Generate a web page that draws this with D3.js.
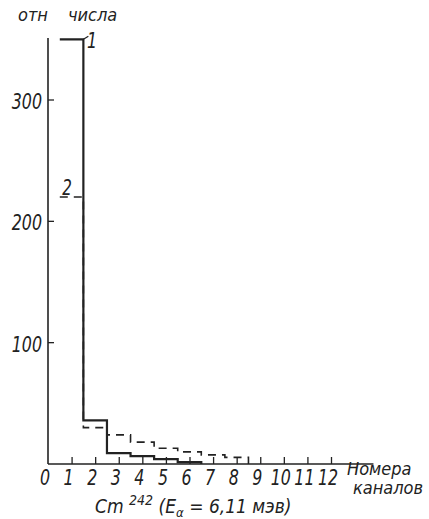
<!DOCTYPE html>
<html>
<head>
<meta charset="utf-8">
<script src="https://cdn.jsdelivr.net/npm/d3@7"></script>
<style>
  html, body { margin: 0; padding: 0; background: #fff; }
  svg text {
    font-family: "DejaVu Sans Condensed", "Liberation Sans Narrow", "DejaVu Sans", sans-serif;
    font-style: italic;
    font-weight: 300;
    fill: #222;
  }
</style>
</head>
<body>
<div id="chart"></div>
<script>
// Cm-242 channel distribution, curves 1 (solid) and 2 (dashed)
const channels1 = [1, 2, 3, 4, 5, 6];
const values1 = [350, 36, 9, 6.5, 4, 1.5];
const channels2 = [1, 2, 3, 4, 5, 6, 7, 8];
const values2 = [220, 30, 24, 18, 13, 10, 7.5, 5.5];
const xTickValues = [0, 1, 2, 3, 4, 5, 6, 7, 8, 9, 10, 11, 12];
const yTickValues = [100, 200, 300];

const W = 429, H = 519;
const INK = '#222';

const svg = d3.select('#chart').append('svg')
  .attr('width', W).attr('height', H);

// scales: 0 -> x 48, 12 -> x 331 ; 0 -> y 464, 300 -> y 100
const x = d3.scaleLinear().domain([0, 12]).range([48, 331]);
const y = d3.scaleLinear().domain([0, 300]).range([464, 100]);

// histogram outline as step points (no left edge on the first bin)
function stepPoints(chs, vals) {
  const pts = [];
  chs.forEach((c, i) => {
    pts.push([c - 0.5, vals[i]]);
    pts.push([c + 0.5, vals[i]]);
  });
  pts.push([chs[chs.length - 1] + 0.5, 0]);
  return pts;
}

const line = d3.line().x(d => x(d[0])).y(d => y(d[1]));

// x axis: ticks point upward
const xAxis = d3.axisTop(x)
  .tickValues(xTickValues.slice(1))
  .tickSize(7)
  .tickFormat('');
const gx = svg.append('g').attr('transform', 'translate(0,' + y(0) + ')').call(xAxis);
gx.select('.domain').remove();
gx.selectAll('line').attr('stroke', INK).attr('stroke-width', 1.3);
svg.append('line')
  .attr('x1', x(0)).attr('x2', x(13.8))
  .attr('y1', y(0)).attr('y2', y(0))
  .attr('stroke', INK).attr('stroke-width', 1.6);

// x tick labels (tall, narrow lettering)
svg.selectAll('.xlab').data(xTickValues).enter().append('text')
  .attr('class', 'xlab')
  .attr('transform', d => 'translate(' + (x(d) - 3) + ',485) scale(0.8,1)')
  .attr('text-anchor', 'middle')
  .attr('font-size', 22)
  .text(d => d);

// y axis
svg.append('line')
  .attr('x1', x(0)).attr('x2', x(0))
  .attr('y1', 38).attr('y2', y(0))
  .attr('stroke', INK).attr('stroke-width', 1.6);
svg.selectAll('.ytick').data(yTickValues).enter().append('line')
  .attr('x1', x(0)).attr('x2', x(0) + 6)
  .attr('y1', d => y(d)).attr('y2', d => y(d))
  .attr('stroke', INK).attr('stroke-width', 1.3);
svg.selectAll('.ylab').data(yTickValues).enter().append('text')
  .attr('transform', d => 'translate(42,' + (y(d) + 9) + ') scale(0.8,1)')
  .attr('text-anchor', 'end')
  .attr('font-size', 22)
  .text(d => d);

// curve 2 (dashed) first, solid on top
svg.append('path')
  .datum(stepPoints(channels2, values2))
  .attr('d', line)
  .attr('fill', 'none')
  .attr('stroke', INK)
  .attr('stroke-width', 1.6)
  .attr('stroke-dasharray', '8,6');

svg.append('path')
  .datum(stepPoints(channels1, values1))
  .attr('d', line)
  .attr('fill', 'none')
  .attr('stroke', INK)
  .attr('stroke-width', 2.2);

// curve labels
svg.append('text').attr('transform', 'translate(87,48) scale(0.8,1)')
  .attr('font-size', 22).text('1');
svg.append('line')
  .attr('x1', x(1.5)).attr('y1', y(values1[0]))
  .attr('x2', x(1.5) + 5).attr('y2', y(values1[0]) - 3)
  .attr('stroke', INK).attr('stroke-width', 1.2);
svg.append('text').attr('transform', 'translate(67,195) scale(0.8,1)')
  .attr('text-anchor', 'middle')
  .attr('font-size', 21).text('2');

// titles
svg.append('text').attr('x', 18).attr('y', 21).attr('font-size', 18).text('отн');
svg.append('text').attr('x', 68).attr('y', 21).attr('font-size', 18).text('числа');
svg.append('text').attr('x', 347).attr('y', 475).attr('font-size', 18)
  .text('Номера');
svg.append('text').attr('x', 353).attr('y', 494).attr('font-size', 18)
  .text('каналов');

const cap = svg.append('text').attr('x', 95).attr('y', 513).attr('font-size', 19);
cap.append('tspan').text('Cm ');
cap.append('tspan').attr('dy', -8).attr('font-size', 14).text('242');
cap.append('tspan').attr('dy', 8).text(' (E');
cap.append('tspan').attr('dy', 4).attr('font-size', 13).text('α');
cap.append('tspan').attr('dy', -4).text(' = 6,11 мэв)');
</script>
</body>
</html>
